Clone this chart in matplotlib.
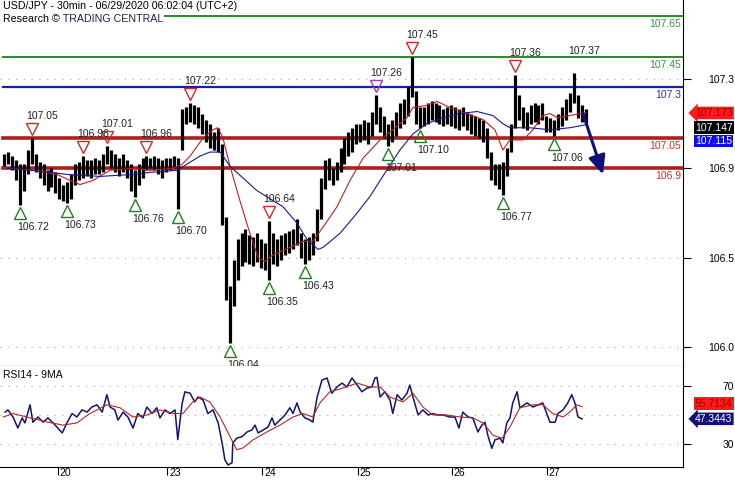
import numpy as np
import matplotlib.pyplot as plt
from matplotlib import transforms

plt.rcParams['font.family'] = ['Liberation Sans', 'DejaVu Sans']
plt.rcParams['font.size'] = 7.5

# ---- hourly bars (hours since start of chart) ----
hours = np.arange(1, 149)
highs = [106.97, 106.98, 106.96, 106.94, 106.92, 106.92, 106.99, 107.05, 106.97, 106.93,
         106.92, 106.89, 106.90, 106.88, 106.85, 106.82, 106.83, 106.87, 106.92, 106.93,
         106.96, 106.94, 106.94, 106.95, 106.94, 106.97, 107.01, 106.99, 106.97, 106.95,
         106.97, 106.94, 106.92, 106.89, 106.92, 106.95, 106.96, 106.95, 106.96, 106.95,
         106.94, 106.95, 106.95, 106.96, 106.95, 107.19, 107.20, 107.22, 107.21, 107.20,
         107.17, 107.14, 107.12, 107.08, 107.10, 107.02, 106.66, 106.32, 106.45, 106.55,
         106.58, 106.60, 106.57, 106.56, 106.58, 106.55, 106.53, 106.64, 106.58, 106.55,
         106.57, 106.58, 106.59, 106.60, 106.65, 106.58, 106.55, 106.56, 106.58, 106.70,
         106.85, 106.94, 106.95, 106.90, 106.93, 107.00, 107.05, 107.08, 107.10, 107.12,
         107.12, 107.14, 107.13, 107.18, 107.26, 107.20, 107.16, 107.12, 107.14, 107.18,
         107.22, 107.24, 107.30, 107.45, 107.28, 107.20, 107.20, 107.22, 107.23, 107.22,
         107.21, 107.19, 107.20, 107.21, 107.20, 107.19, 107.20, 107.18, 107.17, 107.16,
         107.15, 107.14, 107.10, 106.98, 106.92, 106.92, 106.93, 107.00, 107.12, 107.36,
         107.26, 107.20, 107.18, 107.21, 107.22, 107.21, 107.22, 107.16, 107.15, 107.14,
         107.17, 107.20, 107.24, 107.27, 107.37, 107.26, 107.21, 107.19]
lows = [106.91, 106.92, 106.89, 106.84, 106.72, 106.79, 106.87, 106.92, 106.88, 106.85,
        106.82, 106.79, 106.81, 106.78, 106.75, 106.74, 106.73, 106.75, 106.82, 106.84,
        106.85, 106.86, 106.85, 106.87, 106.87, 106.88, 106.92, 106.90, 106.88, 106.86,
        106.88, 106.85, 106.79, 106.76, 106.82, 106.85, 106.89, 106.90, 106.89, 106.87,
        106.85, 106.88, 106.89, 106.90, 106.70, 106.99, 107.12, 107.13, 107.12, 107.10,
        107.07, 107.03, 107.00, 106.99, 106.98, 106.62, 106.25, 106.04, 106.22, 106.35,
        106.42, 106.44, 106.43, 106.42, 106.44, 106.41, 106.40, 106.35, 106.43, 106.42,
        106.45, 106.47, 106.48, 106.50, 106.52, 106.46, 106.43, 106.45, 106.47, 106.54,
        106.65, 106.80, 106.84, 106.82, 106.84, 106.88, 106.92, 106.96, 106.98, 107.02,
        107.03, 107.04, 107.02, 107.06, 107.12, 107.08, 107.05, 107.01, 107.03, 107.06,
        107.10, 107.12, 107.16, 107.25, 107.12, 107.10, 107.11, 107.12, 107.14, 107.13,
        107.12, 107.11, 107.12, 107.11, 107.10, 107.09, 107.11, 107.09, 107.07, 107.06,
        107.05, 107.03, 106.95, 106.84, 106.82, 106.80, 106.77, 106.86, 106.98, 107.10,
        107.14, 107.10, 107.09, 107.12, 107.13, 107.12, 107.14, 107.08, 107.08, 107.06,
        107.09, 107.11, 107.14, 107.18, 107.22, 107.15, 107.13, 107.12]

# ---- moving averages on price ----
red_ma_x = [1.8, 8.3, 14.4, 17.7, 20.2, 23.5, 26, 27.8, 33.6, 37.9,
            43.7, 46, 48, 51.3, 53.8, 55, 56.3, 58.1, 60.6, 63.1,
            65.2, 66.9, 68.7, 73.2, 76.5, 79, 81.6, 85.1, 88.4, 91.7,
            96, 99.2, 102.8, 104.3, 107.8, 110.4, 113.6, 117.9, 122, 125,
            127, 128.8, 132.1, 134.6, 137.1, 138.9, 140.7, 143.9, 146.5, 148]
red_ma = [106.90, 106.89, 106.87, 106.84, 106.82, 106.84, 106.87, 106.89, 106.90, 106.89,
          106.90, 106.92, 106.96, 107.05, 107.09, 107.10, 107.05, 106.91, 106.74, 106.58,
          106.46, 106.44, 106.47, 106.51, 106.54, 106.54, 106.61, 106.71, 106.84, 106.95,
          107.04, 107.09, 107.15, 107.20, 107.21, 107.23, 107.20, 107.17, 107.14, 107.09,
          106.99, 107.04, 107.04, 107.09, 107.16, 107.17, 107.15, 107.16, 107.17, 107.173]
blue_ma_x = [1.8, 8.3, 12.6, 16.9, 25.3, 33.6, 37.9, 44.7, 48, 50.5,
             53, 55.6, 58.1, 64.9, 71.5, 75, 77.5, 80.3, 81.6, 85.9,
             90.2, 93.4, 96, 101, 104.3, 107.8, 111.9, 116.2, 120.5, 124.5,
             127, 128.8, 133.8, 138.9, 143.9, 148]
blue_ma = [106.90, 106.89, 106.88, 106.87, 106.86, 106.87, 106.88, 106.89, 106.93, 106.96,
           106.98, 106.98, 106.91, 106.79, 106.71, 106.63, 106.55, 106.50, 106.51, 106.58,
           106.68, 106.76, 106.84, 106.99, 107.07, 107.12, 107.15, 107.17, 107.18, 107.16,
           107.12, 107.10, 107.10, 107.09, 107.10, 107.115]
last_close = 107.147

# ---- RSI ----
rsi_x = [1.3, 2, 3.3, 4.5, 5.6, 6.3, 7.6, 8.3, 9.6, 10.9,
         12.1, 13.4, 14.6, 15.7, 16.9, 18.2, 19.4, 20.7, 22, 23.2,
         24.5, 25.8, 27, 27.8, 29, 29.8, 31.1, 32.3, 33.6, 34.8,
         36.1, 37.1, 38.4, 39.6, 40.4, 41.7, 42.9, 44.2, 44.9, 46,
         46.7, 48, 49.2, 50, 51.3, 52.5, 53.8, 55.1, 56.1, 56.8,
         57.6, 58.6, 58.8, 59.8, 61.1, 62.4, 63.6, 64.4, 65.2, 66.4,
         67.7, 68.7, 69.4, 70.7, 72, 73.2, 74, 75, 75.8, 77,
         78.3, 79, 80.1, 81.3, 82.6, 83.8, 85.1, 86.4, 87.6, 88.9,
         90.2, 91.4, 92.7, 93.9, 94.7, 95.2, 96, 97.2, 98.5, 99.2,
         100.3, 101.5, 102.8, 103.5, 104.3, 105.6, 106.8, 108.1, 109.3, 110.6,
         111.9, 113.6, 114.9, 115.9, 116.9, 118.2, 119.4, 120.7, 121.7, 122.5,
         123.2, 124.2, 125, 126.3, 127, 128, 128.8, 129.5, 130.6, 131.3,
         133.1, 134.6, 135.9, 137.1, 138.1, 138.9, 140.2, 140.9, 142.2, 143.4,
         144.4, 145.2, 146, 147]
rsi = [52, 53.5, 48.6, 41, 48, 44.5, 57, 45, 48.6, 45,
       48, 44.5, 41, 37.6, 44.5, 51, 48.6, 53.5, 52, 55.5,
       57, 52, 64, 55.5, 53.5, 46.5, 52, 48.6, 41, 51,
       48, 55.5, 51, 55, 48, 53.5, 51, 53.5, 33, 58,
       66, 65, 59, 62.4, 60.3, 51, 53.5, 44.5, 30.7, 19,
       15.5, 17, 30.7, 34, 35, 38.3, 39.6, 43, 37.6, 39.6,
       41.7, 48, 43, 46.5, 50, 55, 51, 58.3, 52, 48,
       46.5, 45, 62.4, 74, 75.5, 65, 69.3, 72, 69.3, 75.5,
       70.7, 66, 68.6, 69.3, 75.5, 76, 62.4, 66, 60.3, 51,
       64, 60.3, 65, 70.7, 62.4, 50, 53.5, 50, 51, 50,
       50, 48.6, 48.6, 41, 52, 48.6, 48, 38.3, 43, 45,
       36, 27, 32.8, 34, 30.7, 44.5, 48, 58.3, 66, 55,
       58.3, 55.5, 57, 58.3, 51, 45, 45, 51, 53.5, 58.3,
       64, 58.3, 48.6, 47.3443]
rsi_ma_x = [0.8, 3.3, 7.6, 11.9, 15.9, 19.4, 22.7, 27, 30.3, 33.6,
            37.1, 40.4, 43.7, 46.2, 48.7, 50.5, 53, 55.6, 58.1, 59.8,
            61.4, 63.9, 67.4, 70.7, 74, 76.5, 79, 80.8, 83.3, 86.6,
            90.2, 93.4, 96, 98.5, 101.8, 104.3, 106.8, 109.3, 112.9, 116.2,
            119.4, 122, 124.5, 126.8, 128.8, 131.3, 134.6, 137.1, 139.6, 142.2,
            143.9, 145.7, 147]
rsi_ma = [48.6, 51, 48, 45.2, 43, 44.5, 51, 57, 55, 48.6,
          50, 53.5, 51, 51, 59, 62.4, 59, 48.6, 35, 26,
          27.3, 32.8, 38.3, 43, 48.6, 51, 48.6, 58.3, 66, 68.6,
          72, 69.3, 69.3, 62.4, 59, 65, 55.5, 50, 50, 48.6,
          48, 44.5, 36, 34, 41.7, 55, 57, 57, 51, 48.6,
          52, 57, 55.7134]

# ---- pivots ----
pivot_hi_x = [8, 21, 27, 37, 48, 68, 95, 104, 130, 145]
pivot_hi = [107.05, 106.96, 107.01, 106.96, 107.22, 106.64, 107.26, 107.45, 107.36, 107.37]
pivot_hi_mark = [True, True, True, True, True, True, True, True, True, False]
pivot_lo_x = [5, 17, 34, 45, 58, 68, 77, 98, 106, 127, 140]
pivot_lo = [106.72, 106.73, 106.76, 106.70, 106.04, 106.35, 106.43, 107.01, 107.10, 106.77, 107.06]

# ---- support / resistance levels ----
levels = [107.65, 107.45, 107.3, 107.05, 106.9]
level_labels = ['107.65', '107.45', '107.3', '107.05', '106.9']
level_colors = ['#2a8a2a', '#2a8a2a', '#1424a0', '#b01e1e', '#b01e1e']
level_text_colors = ['#3f8f3f', '#3f8f3f', '#3030b0', '#c83232', '#c83232']
level_widths = [1.4, 1.4, 1.6, 2.6, 2.6]

price_ticks = [107.34, 106.9, 106.46, 106.02]
price_tick_labels = ['107.3', '106.9', '106.5', '106.0']
rsi_ticks = [70, 30]
day_pos = [14.6, 42.2, 66.2, 90.4, 114.1, 138.1]
day_labels = ['20', '23', '24', '25', '26', '27']
target = (152.3, 106.87)

W, H = 735, 480
fig = plt.figure(figsize=(W / 100, H / 100), dpi=100)
ax = fig.add_axes([0, (H - 366) / H, 683 / W, 366 / H])
ax2 = fig.add_axes([0, (H - 467) / H, 683 / W, 101 / H])

for a in (ax, ax2):
    a.set_xlim(0, 172.5)
    a.spines['left'].set_visible(False)
    a.spines['top'].set_visible(False)
    a.yaxis.tick_right()
    a.tick_params(axis='y', direction='out', length=6, pad=31, labelsize=7.5)

ax.set_ylim(105.925, 107.73)
ax.set_xticks([])
ax.set_yticks(price_ticks, price_tick_labels)
for lb in ax.get_yticklabels():
    lb.set_ha('right')
for p in price_ticks:
    ax.axhline(p, color='#a8a8a8', ls=(0, (1, 6)), lw=0.8, zorder=0)

for lv, c, w in zip(levels, level_colors, level_widths):
    ax.axhline(lv, xmin=3 / 683, color=c, lw=w, zorder=1)
lab_tr = transforms.offset_copy(ax.get_yaxis_transform(), fig=fig, x=0, y=-3, units='dots')
for lv, t, c in zip(levels, level_labels, level_text_colors):
    ax.text(681 / 683, lv, t, transform=lab_tr, ha='right', va='top', color=c, fontsize=7.5)

ax.vlines(hours, lows, highs, color='black', lw=2.3, zorder=2)
ax.plot(red_ma_x, red_ma, color='#c02020', lw=0.8, zorder=3)
ax.plot(blue_ma_x, blue_ma, color='#1a1a8c', lw=0.8, zorder=3)

hi_tr = transforms.offset_copy(ax.transData, fig=fig, x=0, y=9, units='dots')
lo_tr = transforms.offset_copy(ax.transData, fig=fig, x=0, y=-8, units='dots')
for x, v, m in zip(pivot_hi_x, pivot_hi, pivot_hi_mark):
    if m:
        col = '#a040a0' if v == 107.26 else '#d02828'
        ax.plot(x, v, marker='v', ms=8, mfc='none', mec=col, mew=1, transform=hi_tr, zorder=4)
    ax.annotate(f'{v:.2f}', xy=(x, v), xytext=(10, 22), textcoords='offset pixels',
                ha='center', va='center', color='#202020', zorder=5)
for x, v in zip(pivot_lo_x, pivot_lo):
    ax.plot(x, v, marker='^', ms=8, mfc='none', mec='#208020', mew=1, transform=lo_tr, zorder=4)
    ax.annotate(f'{v:.2f}', xy=(x, v), xytext=(13, -22), textcoords='offset pixels',
                ha='center', va='center', color='#202020', zorder=5)

ax.annotate('', xy=target, xytext=(hours[-1] - 0.8, red_ma[-1]),
            arrowprops=dict(arrowstyle='-|>,head_length=0.7,head_width=0.32', color='#10107a',
                            lw=2.2, mutation_scale=16, shrinkA=0, shrinkB=0), zorder=6)


def tag(a, value, text, fc, tc, dy, arrow=False):
    style = 'larrow,pad=0.12' if arrow else 'square,pad=0.12'
    a.annotate(text, xy=(1, value), xycoords=a.get_yaxis_transform(), xytext=(12, dy),
               textcoords='offset pixels', ha='left', va='center', color=tc, fontsize=7.5,
               bbox=dict(boxstyle=style, fc=fc, ec='none'), annotation_clip=False)


tag(ax, red_ma[-1], f'{red_ma[-1]:.3f}', '#ff1a1a', '#9a0000', 0, arrow=True)
tag(ax, last_close, f'{last_close:.3f}', 'black', 'white', -9.5)
tag(ax, blue_ma[-1], f'{blue_ma[-1]:.3f}', '#0a0aff', 'white', -16.5)

# ---- RSI panel ----
ax2.set_ylim(14.1, 83.8)
ax2.set_yticks(rsi_ticks, [str(t) for t in rsi_ticks])
for lb in ax2.get_yticklabels():
    lb.set_ha('right')
for g in (70, 50, 30):
    ax2.axhline(g, color='#a8a8a8', ls=(0, (1, 6)), lw=0.8, zorder=0)
ax2.plot(rsi_x, rsi, color='#141470', lw=1.1)
ax2.plot(rsi_ma_x, rsi_ma, color='#b02828', lw=0.8)
ax2.text(3 / 683, 1 - 9 / 101, 'RSI14 - 9MA', transform=ax2.transAxes, va='center', fontsize=7.5)
tag(ax2, rsi_ma[-1], f'{rsi_ma[-1]:.4f}', '#ff1a1a', '#9a0000', 3)
tag(ax2, rsi[-1], f'{rsi[-1]:.4f}', '#10107a', 'white', 0, arrow=True)

ax2.set_xticks(day_pos, day_labels)
ax2.tick_params(axis='x', direction='out', length=6, pad=-5, labelsize=7.5)
shift = transforms.ScaledTranslation(2 / 100, 0, fig.dpi_scale_trans)
for lb in ax2.get_xticklabels():
    lb.set_ha('left')
    lb.set_transform(lb.get_transform() + shift)

# ---- header ----
white = dict(boxstyle='square,pad=0.05', fc='white', ec='none')
fig.text(3 / W, 1 - 1 / H, 'USD/JPY - 30min - 06/29/2020 06:02:04 (UTC+2)', va='top',
         fontsize=7.7, bbox=white)
t1 = fig.text(3 / W, 1 - 14 / H, 'Research \u00a9', va='top', fontsize=7.7, bbox=white)
ax.annotate(' TRADING CENTRAL', xy=(1, 0), xycoords=t1, va='bottom', ha='left', fontsize=7.7,
            color='#2e1a40', annotation_clip=False, zorder=7, bbox=white)

fig.savefig('out.png', dpi=100)
